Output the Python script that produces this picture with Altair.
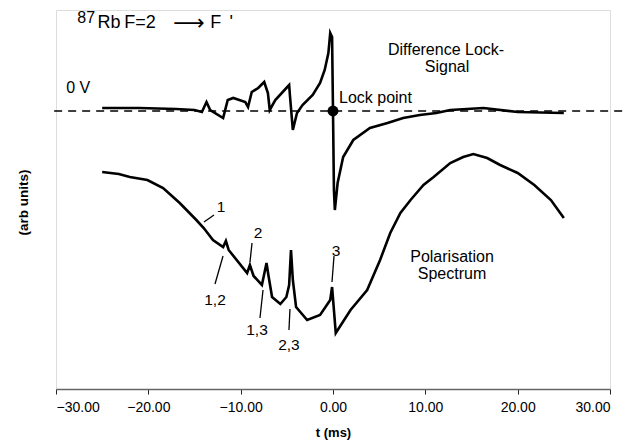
import altair as alt
import pandas as pd

# ---- data (t in ms, signal in arbitrary units) ----
pol_t = [-25, -23.2, -22.0, -20.1, -18.4, -16.6, -14.8, -14.0, -13.0, -11.9, -11.6, -11.3,
         -9.3, -9.0, -8.6, -7.7, -7.2, -7.0, -6.6, -5.7, -5.05, -4.75, -4.55, -4.35, -4.0,
         -2.8, -1.4, -0.3, -0.1, 0.3, 1.9, 3.7, 5.1, 6.2, 7.3, 8.4, 9.8, 10.9, 12.7,
         14.1, 15.2, 16.7, 18.1, 20.0, 21.8, 23.6, 25]
pol_v = [218, 216, 213, 210, 202, 187, 170, 162, 150, 143, 149, 140,
         117, 125, 114, 105, 127, 115, 93, 86, 93, 105, 140, 110, 83,
         70, 75, 90, 103, 57, 80, 100, 130, 157, 177, 190, 205, 213, 227,
         233, 236, 232, 225, 217, 205, 190, 172]

diff_t = [-25, -21, -17, -15, -14.2, -13.7, -13.3, -11.9, -11.4, -10.8, -9.5, -9.2,
          -8.8, -8.1, -7.45, -7.05, -6.85, -6.25, -4.95, -4.75, -4.65, -4.35, -3.9, -3.3,
          -2.2, -1.4, -0.9, -0.5, -0.3, -0.1, 0.0, 0.1, 0.2, 0.5, 1.1, 2.2, 4.0,
          5.9, 7.6, 9.4, 11.2, 12.7, 16.3, 20.0, 25]
diff_v = [282, 282, 281, 280, 278, 288, 280, 272, 290, 292, 288, 283,
          298, 302, 308, 297, 280, 290, 303, 305, 293, 260, 277, 285,
          295, 307, 320, 337, 357, 353, 279, 200, 180, 207, 233, 250, 262,
          267, 272, 275, 277, 280, 282, 278, 277]

zero_level = 279

ann_text = ["1", "2", "1,2", "1,3", "2,3", "3"]
ann_tx = [-12.13, -8.12, -12.78, -8.23, -4.77, 0.32]
ann_ty = [183, 157, 90, 60, 45, 139]
lead_x1 = [-12.89, -8.77, -11.91, -7.58, -4.66, 0.11]
lead_y1 = [175, 147, 134, 100, 81, 134]
lead_x2 = [-13.97, -8.99, -12.78, -7.91, -4.77, -0.11]
lead_y2 = [168, 128, 106, 72, 60, 108]

labels_text = ["Difference Lock-", "Signal", "Polarisation", "Spectrum"]
labels_x = [12.24, 12.35, 12.89, 12.89]
labels_y = [340, 323, 133, 116]

sup_text = ["87"]
sup_x = [-27.7]
sup_y = [372]
title_parts = ["Rb", "F=2", "F", "'"]
title_x = [-25.5, -22.6, -13.3, -11.2]
title_y = [367, 367, 367, 367]
arrow_text = ["\u27f6"]
arrow_x = [-15.6]
arrow_y = [367]

x_ticks = [-30, -20, -10, 0, 10, 20, 30]

FONT = "Liberation Sans"

pol = pd.DataFrame({"t": pol_t, "v": pol_v})
dif = pd.DataFrame({"t": diff_t, "v": diff_v})
ann = pd.DataFrame({"text": ann_text, "t": ann_tx, "v": ann_ty})
leads = pd.DataFrame({"x1": lead_x1, "y1": lead_y1, "x2": lead_x2, "y2": lead_y2})
labs = pd.DataFrame({"text": labels_text, "t": labels_x, "v": labels_y})
sup = pd.DataFrame({"text": sup_text, "t": sup_x, "v": sup_y})
tparts = pd.DataFrame({"text": title_parts, "t": title_x, "v": title_y})
arrow = pd.DataFrame({"text": arrow_text, "t": arrow_x, "v": arrow_y})

xs = alt.Scale(domain=[-30, 30], nice=False, zero=False)
ys = alt.Scale(domain=[1, 380], nice=False, zero=False)

xaxis = alt.Axis(values=x_ticks, format=".2f", title="t (ms)", grid=False,
                 labelFont=FONT, labelFontSize=14, labelColor="black", labelPadding=6,
                 tickSize=5, tickColor="#222", domainColor="#666", domainWidth=1.5,
                 titleFont=FONT, titleFontSize=13, titleFontWeight="bold",
                 titleColor="black", titlePadding=12)
yaxis = alt.Axis(title="(arb units)", labels=False, ticks=False, domain=False, grid=False,
                 titleFont=FONT, titleFontSize=13.5, titleFontWeight="bold", titleColor="black",
                 titleX=-33, titleY=192, titleAngle=-90, titleAlign="center",
                 titleBaseline="middle")

X = lambda f: alt.X(f, scale=xs)
Y = lambda f: alt.Y(f, scale=ys)

pol_line = alt.Chart(pol).mark_line(color="black", strokeWidth=2.6).encode(
    x=alt.X("t:Q", scale=xs, axis=xaxis), y=alt.Y("v:Q", scale=ys, axis=yaxis), order="t:Q")
dif_line = alt.Chart(dif).mark_line(color="black", strokeWidth=2.6).encode(
    x=X("t:Q"), y=Y("v:Q"), order=alt.Order("t:Q"))

dash = alt.Chart(pd.DataFrame({"a": [-30.2], "b": [32.4], "v": [zero_level]})).mark_rule(
    color="black", strokeWidth=1.5, strokeDash=[8, 6]).encode(
    x=X("a:Q"), x2="b:Q", y=Y("v:Q"))

dot = alt.Chart(pd.DataFrame({"t": [0], "v": [zero_level]})).mark_point(
    filled=True, color="black", size=120, opacity=1).encode(x=X("t:Q"), y=Y("v:Q"))

lead_rules = alt.Chart(leads).mark_rule(color="black", strokeWidth=1.3).encode(
    x=X("x1:Q"), y=Y("y1:Q"), x2="x2:Q", y2="y2:Q")

ann_text_mark = alt.Chart(ann).mark_text(font=FONT, fontSize=15.5, color="black",
                                         align="center", baseline="middle").encode(
    x=X("t:Q"), y=Y("v:Q"), text="text:N")

lab_mark = alt.Chart(labs).mark_text(font=FONT, fontSize=16, color="black",
                                     align="center", baseline="middle").encode(
    x=X("t:Q"), y=Y("v:Q"), text="text:N")

zero_lab = alt.Chart(pd.DataFrame({"t": [-28.9], "v": [302], "text": ["0 V"]})).mark_text(
    font=FONT, fontSize=16, color="black", align="left", baseline="middle").encode(
    x=X("t:Q"), y=Y("v:Q"), text="text:N")

lock_lab = alt.Chart(pd.DataFrame({"t": [0.65], "v": [292], "text": ["Lock point"]})).mark_text(
    font=FONT, fontSize=16, color="black", align="left", baseline="middle").encode(
    x=X("t:Q"), y=Y("v:Q"), text="text:N")

sup_mark = alt.Chart(sup).mark_text(font=FONT, fontSize=16, color="black",
                                    align="left", baseline="middle").encode(
    x=X("t:Q"), y=Y("v:Q"), text="text:N")
title_mark = alt.Chart(tparts).mark_text(font=FONT, fontSize=18, color="black",
                                         align="left", baseline="middle").encode(
    x=X("t:Q"), y=Y("v:Q"), text="text:N")
arrow_mark = alt.Chart(arrow).mark_text(font="DejaVu Sans", fontSize=22, color="black",
                                        align="center", baseline="middle").encode(
    x=X("t:Q"), y=Y("v:Q"), text="text:N")

chart = alt.layer(pol_line, dif_line, dash, dot, lead_rules, ann_text_mark, lab_mark,
                  zero_lab, lock_lab, sup_mark, title_mark, arrow_mark).properties(
    width=554, height=379,
    padding={"left": 48, "top": 2, "right": 14, "bottom": 51},
    autosize=alt.AutoSizeParams(type="none"),
).configure_view(stroke=None).configure(background="white")

chart.save("out.html", embed_options={"renderer": "svg", "actions": False})
